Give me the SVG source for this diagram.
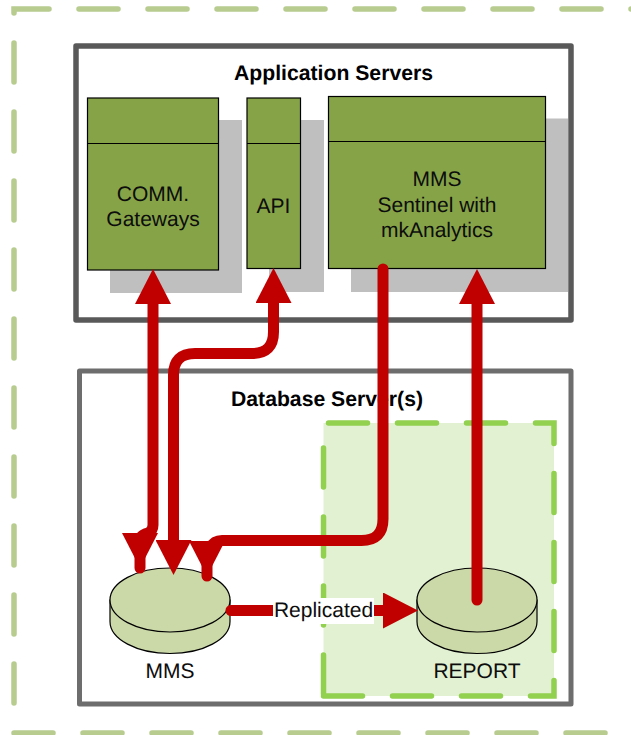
<svg xmlns="http://www.w3.org/2000/svg" width="631" height="735" viewBox="0 0 631 735">
<style>
text{font-family:"Liberation Sans",Arial,sans-serif;font-size:21px;fill:#0d0d0d;text-anchor:middle;text-rendering:geometricPrecision}
.title{font-weight:bold;font-size:21.2px;fill:#000}
.shadow{fill:#bfbfbf}
.card{fill:#86a447;stroke:#000;stroke-width:1.2}
.div{stroke:#000;stroke-width:1.2;fill:none}
.disk{fill:#cbd9a8;stroke:#000;stroke-width:1.2}
.wire{fill:none;stroke:#c00000;stroke-width:11;stroke-linecap:round}
</style>
<defs>
<marker id="headBase" markerUnits="userSpaceOnUse" markerWidth="36" markerHeight="36" viewBox="0 0 34 35" refX="0" refY="17.5" orient="auto-start-reverse"><path d="M0,0L34,17.5L0,35Z" fill="#c00000"/></marker>
<marker id="headTip" markerUnits="userSpaceOnUse" markerWidth="36" markerHeight="36" viewBox="0 0 34 35" refX="34" refY="17.5" orient="auto-start-reverse"><path d="M0,0L34,17.5L0,35Z" fill="#c00000"/></marker>
</defs>
<rect width="631" height="735" fill="#fff"/>
<g id="outer-boundary"><path d="M14,733H670V9H14Z" fill="none" stroke="#b8cc90" stroke-width="5.5" stroke-linecap="round" stroke-dasharray="39 30"/></g>
<g id="application-servers">
<rect x="76" y="46" width="495" height="274" fill="#fff" stroke="#595959" stroke-width="5.5" stroke-linejoin="round"/>
<text class="title" x="333.500" y="80">Application Servers</text>
</g>
<g id="database-servers">
<rect x="79.500" y="371" width="491.500" height="333" fill="#fff" stroke="#6d6d6d" stroke-width="5" stroke-linejoin="round"/>
<path d="M323.500,696H554V423H323.500Z" fill="#e2f1d2"/>
<path d="M323.500,696H554V423H323.500Z" fill="none" stroke="#92d050" stroke-width="5.500" stroke-linecap="round" stroke-dasharray="39 30"/>
<text class="title" x="327" y="406">Database Server(s)</text>
</g>
<g id="comm-gateways">
<rect class="shadow" x="110" y="120" width="132" height="173"/>
<rect class="card" x="87.500" y="98" width="131" height="172"/>
<path class="div" d="M87.500,143.500H218.500"/>
<text x="153" y="201">COMM.</text>
<text x="153" y="226">Gateways</text>
</g>
<g id="api">
<rect class="shadow" x="269" y="120" width="55" height="172"/>
<rect class="card" x="247" y="98" width="53.500" height="170.500"/>
<path class="div" d="M247,143.500H300.500"/>
<text x="273.500" y="213">API</text>
</g>
<g id="mms-sentinel">
<rect class="shadow" x="351" y="118.500" width="217" height="173.500"/>
<rect class="card" x="328.500" y="96.500" width="217" height="172"/>
<path class="div" d="M328.500,141.500H545.500"/>
<text x="437" y="186">MMS</text>
<text x="437" y="212">Sentinel with</text>
<text x="437" y="237">mkAnalytics</text>
</g>
<g id="mms-db">
<path class="disk" d="M110,600V621.500A60,32 0 0 0 230,621.500V600Z"/>
<ellipse class="disk" cx="170" cy="600" rx="60" ry="32"/>
<text x="170" y="678">MMS</text>
</g>
<g id="report-db">
<path class="disk" d="M417,600V621.500A60,32 0 0 0 537,621.500V600Z"/>
<ellipse class="disk" cx="477" cy="600" rx="60" ry="32"/>
<text x="477" y="678">REPORT</text>
</g>
<g id="connectors">
<path class="wire" d="M140,568V541Q140,535 148,533Q153,531 153,525V304" marker-start="url(#headTip)" marker-end="url(#headBase)"/>
<path class="wire" d="M173.500,540V375Q173.500,353.500 195,353.500H252Q273.500,353.500 273.500,332V303" marker-start="url(#headBase)" marker-end="url(#headBase)"/>
<path class="wire" d="M383,269V519Q383,540.500 361.500,540.500H222Q214,540.500 210,548Q207,553 207,560V576" marker-end="url(#headTip)"/>
<path class="wire" d="M477,600V304" marker-end="url(#headBase)"/>
<path class="wire" d="M231,610.500H383" marker-end="url(#headBase)"/>
</g>
<g id="replicated-label">
<rect x="273" y="598" width="101" height="26" fill="#fff"/>
<text x="323.500" y="617">Replicated</text>
</g>
</svg>
